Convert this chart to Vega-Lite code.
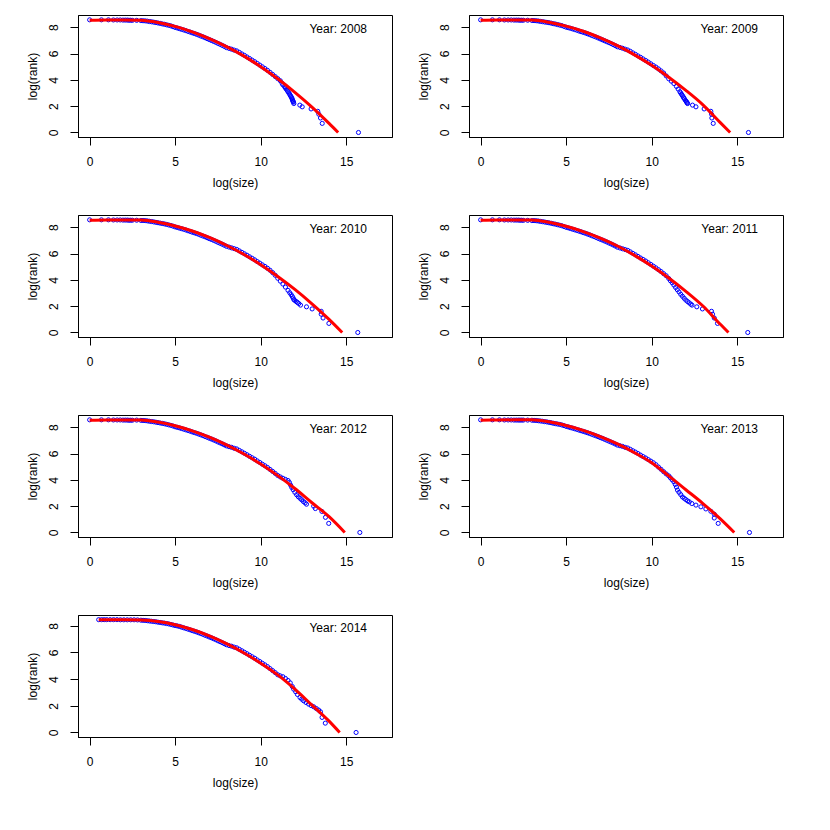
{
"$schema": "https://vega.github.io/schema/vega-lite/v6.json",
"autosize": {"type": "none"},
"padding": {"left": 78, "top": 15, "right": 752, "bottom": 815},
"background": "white",
"datasets": {
"obs2008": [{"lsize":0,"lrank":8.56},{"lsize":0.69,"lrank":8.56},{"lsize":1.1,"lrank":8.56},{"lsize":1.39,"lrank":8.55},{"lsize":1.61,"lrank":8.55},{"lsize":1.79,"lrank":8.55},{"lsize":1.95,"lrank":8.54},{"lsize":2.08,"lrank":8.54},{"lsize":2.2,"lrank":8.54},{"lsize":2.3,"lrank":8.53},{"lsize":2.4,"lrank":8.53},
{"lsize":2.5,"lrank":8.52},{"lsize":2.75,"lrank":8.52},{"lsize":3,"lrank":8.5},{"lsize":3.125,"lrank":8.49},{"lsize":3.25,"lrank":8.48},{"lsize":3.375,"lrank":8.46},{"lsize":3.5,"lrank":8.43},{"lsize":3.625,"lrank":8.41},{"lsize":3.75,"lrank":8.38},{"lsize":3.875,"lrank":8.35},{"lsize":4,"lrank":8.32},{"lsize":4.125,"lrank":8.29},{"lsize":4.25,"lrank":8.25},{"lsize":4.375,"lrank":8.22},{"lsize":4.5,"lrank":8.18},{"lsize":4.625,"lrank":8.14},{"lsize":4.75,"lrank":8.1},{"lsize":4.875,"lrank":8.04},{"lsize":5,"lrank":7.98},{"lsize":5.125,"lrank":7.94},{"lsize":5.25,"lrank":7.89},{"lsize":5.375,"lrank":7.84},{"lsize":5.5,"lrank":7.79},{"lsize":5.625,"lrank":7.74},{"lsize":5.75,"lrank":7.68},{"lsize":5.875,"lrank":7.63},{"lsize":6,"lrank":7.57},{"lsize":6.125,"lrank":7.52},{"lsize":6.25,"lrank":7.46},{"lsize":6.375,"lrank":7.4},{"lsize":6.5,"lrank":7.33},{"lsize":6.625,"lrank":7.27},{"lsize":6.75,"lrank":7.2},{"lsize":6.875,"lrank":7.13},{"lsize":7,"lrank":7.06},{"lsize":7.125,"lrank":6.99},{"lsize":7.25,"lrank":6.92},{"lsize":7.375,"lrank":6.85},{"lsize":7.5,"lrank":6.77},{"lsize":7.625,"lrank":6.7},{"lsize":7.75,"lrank":6.62},{"lsize":7.875,"lrank":6.54},{"lsize":8,"lrank":6.45},{"lsize":8.15,"lrank":6.39},{"lsize":8.3,"lrank":6.33},{"lsize":8.45,"lrank":6.26},{"lsize":8.6,"lrank":6.2},{"lsize":8.75,"lrank":6.09},{"lsize":8.9,"lrank":5.97},{"lsize":9.05,"lrank":5.86},{"lsize":9.2,"lrank":5.74},{"lsize":9.35,"lrank":5.62},{"lsize":9.5,"lrank":5.5},{"lsize":9.65,"lrank":5.38},{"lsize":9.8,"lrank":5.25},{"lsize":9.95,"lrank":5.12},{"lsize":10.1,"lrank":4.99},{"lsize":10.25,"lrank":4.86},{"lsize":10.4,"lrank":4.72},{"lsize":10.55,"lrank":4.57},{"lsize":10.7,"lrank":4.41},{"lsize":10.85,"lrank":4.25},{"lsize":11,"lrank":4.09},
{"lsize":11.15,"lrank":3.93},{"lsize":11.25,"lrank":3.74},{"lsize":11.3,"lrank":3.62},{"lsize":11.4,"lrank":3.47},{"lsize":11.45,"lrank":3.38},{"lsize":11.5,"lrank":3.3},{"lsize":11.55,"lrank":3.2},{"lsize":11.6,"lrank":3.1},{"lsize":11.65,"lrank":3},{"lsize":11.7,"lrank":2.9},{"lsize":11.74,"lrank":2.8},{"lsize":11.78,"lrank":2.72},{"lsize":11.81,"lrank":2.64},{"lsize":11.84,"lrank":2.56},{"lsize":11.86,"lrank":2.48},{"lsize":11.88,"lrank":2.4},{"lsize":11.9,"lrank":2.35},{"lsize":11.92,"lrank":2.3},{"lsize":11.94,"lrank":2.2},
{"lsize":12.29,"lrank":2.08},{"lsize":12.43,"lrank":1.95},{"lsize":12.95,"lrank":1.79},{"lsize":13.34,"lrank":1.61},{"lsize":13.4,"lrank":1.39},{"lsize":13.5,"lrank":1.1},{"lsize":13.6,"lrank":0.69},{"lsize":15.72,"lrank":0}],
"fit2008": [{"lsize":0,"lrank":8.53},{"lsize":1,"lrank":8.55},{"lsize":2,"lrank":8.55},{"lsize":3,"lrank":8.53},{"lsize":4,"lrank":8.36},{"lsize":5,"lrank":8.06},{"lsize":6,"lrank":7.65},{"lsize":7,"lrank":7.14},{"lsize":8,"lrank":6.53},{"lsize":9,"lrank":5.82},{"lsize":10,"lrank":5.0},{"lsize":11,"lrank":4.08},{"lsize":12,"lrank":3.05},{"lsize":13,"lrank":1.93},{"lsize":14,"lrank":0.69},{"lsize":14.53,"lrank":0}],
"obs2009": [{"lsize":0,"lrank":8.56},{"lsize":0.69,"lrank":8.56},{"lsize":1.1,"lrank":8.56},{"lsize":1.39,"lrank":8.55},{"lsize":1.61,"lrank":8.55},{"lsize":1.79,"lrank":8.55},{"lsize":1.95,"lrank":8.54},{"lsize":2.08,"lrank":8.54},{"lsize":2.2,"lrank":8.54},{"lsize":2.3,"lrank":8.53},{"lsize":2.4,"lrank":8.53},
{"lsize":2.5,"lrank":8.53},{"lsize":2.75,"lrank":8.53},{"lsize":3,"lrank":8.51},{"lsize":3.125,"lrank":8.5},{"lsize":3.25,"lrank":8.49},{"lsize":3.375,"lrank":8.47},{"lsize":3.5,"lrank":8.44},{"lsize":3.625,"lrank":8.42},{"lsize":3.75,"lrank":8.39},{"lsize":3.875,"lrank":8.37},{"lsize":4,"lrank":8.34},{"lsize":4.125,"lrank":8.31},{"lsize":4.25,"lrank":8.27},{"lsize":4.375,"lrank":8.24},{"lsize":4.5,"lrank":8.2},{"lsize":4.625,"lrank":8.16},{"lsize":4.75,"lrank":8.12},{"lsize":4.875,"lrank":8.06},{"lsize":5,"lrank":8.0},{"lsize":5.125,"lrank":7.96},{"lsize":5.25,"lrank":7.92},{"lsize":5.375,"lrank":7.87},{"lsize":5.5,"lrank":7.82},{"lsize":5.625,"lrank":7.77},{"lsize":5.75,"lrank":7.71},{"lsize":5.875,"lrank":7.66},{"lsize":6,"lrank":7.61},{"lsize":6.125,"lrank":7.56},{"lsize":6.25,"lrank":7.5},{"lsize":6.375,"lrank":7.44},{"lsize":6.5,"lrank":7.37},{"lsize":6.625,"lrank":7.31},{"lsize":6.75,"lrank":7.25},{"lsize":6.875,"lrank":7.18},{"lsize":7,"lrank":7.11},{"lsize":7.125,"lrank":7.04},{"lsize":7.25,"lrank":6.97},{"lsize":7.375,"lrank":6.9},{"lsize":7.5,"lrank":6.83},{"lsize":7.625,"lrank":6.76},{"lsize":7.75,"lrank":6.68},{"lsize":7.875,"lrank":6.6},{"lsize":8,"lrank":6.51},{"lsize":8.15,"lrank":6.46},{"lsize":8.3,"lrank":6.4},{"lsize":8.45,"lrank":6.33},{"lsize":8.6,"lrank":6.27},{"lsize":8.75,"lrank":6.17},{"lsize":8.9,"lrank":6.05},{"lsize":9.05,"lrank":5.94},{"lsize":9.2,"lrank":5.82},{"lsize":9.35,"lrank":5.71},{"lsize":9.5,"lrank":5.59},{"lsize":9.65,"lrank":5.47},{"lsize":9.8,"lrank":5.35},{"lsize":9.95,"lrank":5.22},{"lsize":10.1,"lrank":5.09},{"lsize":10.25,"lrank":4.97},{"lsize":10.4,"lrank":4.83},{"lsize":10.55,"lrank":4.68},{"lsize":10.7,"lrank":4.52},
{"lsize":10.85,"lrank":4.3},{"lsize":11,"lrank":4.08},{"lsize":11.15,"lrank":3.9},{"lsize":11.3,"lrank":3.72},{"lsize":11.45,"lrank":3.5},{"lsize":11.55,"lrank":3.3},{"lsize":11.65,"lrank":3.1},{"lsize":11.7,"lrank":3.0},{"lsize":11.75,"lrank":2.9},{"lsize":11.8,"lrank":2.8},{"lsize":11.85,"lrank":2.7},{"lsize":11.88,"lrank":2.62},{"lsize":11.92,"lrank":2.55},{"lsize":11.98,"lrank":2.43},{"lsize":12.02,"lrank":2.36},{"lsize":12.05,"lrank":2.3},{"lsize":12.08,"lrank":2.25},{"lsize":12.1,"lrank":2.2},
{"lsize":12.39,"lrank":2.08},{"lsize":12.59,"lrank":1.95},{"lsize":13.07,"lrank":1.79},{"lsize":13.46,"lrank":1.61},{"lsize":13.5,"lrank":1.39},{"lsize":13.52,"lrank":1.1},{"lsize":13.6,"lrank":0.69},{"lsize":15.66,"lrank":0}],
"fit2009": [{"lsize":0,"lrank":8.53},{"lsize":1,"lrank":8.55},{"lsize":2,"lrank":8.55},{"lsize":3,"lrank":8.54},{"lsize":4,"lrank":8.37},{"lsize":5,"lrank":8.08},{"lsize":6,"lrank":7.69},{"lsize":7,"lrank":7.19},{"lsize":8,"lrank":6.6},{"lsize":9,"lrank":5.9},{"lsize":10,"lrank":5.1},{"lsize":11,"lrank":4.2},{"lsize":12,"lrank":3.2},{"lsize":13,"lrank":2.1},{"lsize":14,"lrank":0.77},{"lsize":14.59,"lrank":0}],
"obs2010": [{"lsize":0,"lrank":8.56},{"lsize":0.69,"lrank":8.56},{"lsize":1.1,"lrank":8.56},{"lsize":1.39,"lrank":8.55},{"lsize":1.61,"lrank":8.55},{"lsize":1.79,"lrank":8.55},{"lsize":1.95,"lrank":8.54},{"lsize":2.08,"lrank":8.54},{"lsize":2.2,"lrank":8.54},{"lsize":2.3,"lrank":8.53},{"lsize":2.4,"lrank":8.53},
{"lsize":2.5,"lrank":8.53},{"lsize":2.75,"lrank":8.53},{"lsize":3,"lrank":8.51},{"lsize":3.125,"lrank":8.51},{"lsize":3.25,"lrank":8.5},{"lsize":3.375,"lrank":8.48},{"lsize":3.5,"lrank":8.45},{"lsize":3.625,"lrank":8.43},{"lsize":3.75,"lrank":8.4},{"lsize":3.875,"lrank":8.37},{"lsize":4,"lrank":8.34},{"lsize":4.125,"lrank":8.31},{"lsize":4.25,"lrank":8.28},{"lsize":4.375,"lrank":8.25},{"lsize":4.5,"lrank":8.21},{"lsize":4.625,"lrank":8.17},{"lsize":4.75,"lrank":8.13},{"lsize":4.875,"lrank":8.08},{"lsize":5,"lrank":8.02},{"lsize":5.125,"lrank":7.98},{"lsize":5.25,"lrank":7.93},{"lsize":5.375,"lrank":7.89},{"lsize":5.5,"lrank":7.84},{"lsize":5.625,"lrank":7.79},{"lsize":5.75,"lrank":7.73},{"lsize":5.875,"lrank":7.68},{"lsize":6,"lrank":7.62},{"lsize":6.125,"lrank":7.57},{"lsize":6.25,"lrank":7.52},{"lsize":6.375,"lrank":7.46},{"lsize":6.5,"lrank":7.39},{"lsize":6.625,"lrank":7.33},{"lsize":6.75,"lrank":7.27},{"lsize":6.875,"lrank":7.2},{"lsize":7,"lrank":7.13},{"lsize":7.125,"lrank":7.07},{"lsize":7.25,"lrank":7.0},{"lsize":7.375,"lrank":6.93},{"lsize":7.5,"lrank":6.85},{"lsize":7.625,"lrank":6.78},{"lsize":7.75,"lrank":6.71},{"lsize":7.875,"lrank":6.63},{"lsize":8,"lrank":6.55},{"lsize":8.15,"lrank":6.49},{"lsize":8.3,"lrank":6.43},{"lsize":8.45,"lrank":6.37},{"lsize":8.6,"lrank":6.31},{"lsize":8.75,"lrank":6.2},{"lsize":8.9,"lrank":6.09},{"lsize":9.05,"lrank":5.98},{"lsize":9.2,"lrank":5.87},{"lsize":9.35,"lrank":5.75},{"lsize":9.5,"lrank":5.64},{"lsize":9.65,"lrank":5.52},{"lsize":9.8,"lrank":5.39},{"lsize":9.95,"lrank":5.27},{"lsize":10.1,"lrank":5.14},{"lsize":10.25,"lrank":5.02},{"lsize":10.4,"lrank":4.88},{"lsize":10.55,"lrank":4.73},{"lsize":10.7,"lrank":4.55},
{"lsize":10.85,"lrank":4.35},{"lsize":11,"lrank":4.12},{"lsize":11.15,"lrank":3.9},{"lsize":11.3,"lrank":3.68},{"lsize":11.45,"lrank":3.45},{"lsize":11.6,"lrank":3.2},{"lsize":11.7,"lrank":3.02},{"lsize":11.78,"lrank":2.88},{"lsize":11.85,"lrank":2.74},{"lsize":11.9,"lrank":2.62},{"lsize":11.94,"lrank":2.5},{"lsize":12,"lrank":2.43},{"lsize":12.08,"lrank":2.35},{"lsize":12.15,"lrank":2.28},{"lsize":12.23,"lrank":2.2},
{"lsize":12.33,"lrank":2.08},{"lsize":12.68,"lrank":1.95},{"lsize":13.01,"lrank":1.79},{"lsize":13.54,"lrank":1.61},{"lsize":13.54,"lrank":1.39},{"lsize":13.65,"lrank":1.1},{"lsize":13.99,"lrank":0.69},{"lsize":15.68,"lrank":0}],
"fit2010": [{"lsize":0,"lrank":8.53},{"lsize":1,"lrank":8.55},{"lsize":2,"lrank":8.55},{"lsize":3,"lrank":8.54},{"lsize":4,"lrank":8.38},{"lsize":5,"lrank":8.09},{"lsize":6,"lrank":7.71},{"lsize":7,"lrank":7.22},{"lsize":8,"lrank":6.63},{"lsize":9,"lrank":5.94},{"lsize":10,"lrank":5.15},{"lsize":11,"lrank":4.26},{"lsize":12,"lrank":3.27},{"lsize":13,"lrank":2.18},{"lsize":14,"lrank":1.0},{"lsize":14.77,"lrank":0}],
"obs2011": [{"lsize":0,"lrank":8.56},{"lsize":0.69,"lrank":8.56},{"lsize":1.1,"lrank":8.56},{"lsize":1.39,"lrank":8.55},{"lsize":1.61,"lrank":8.55},{"lsize":1.79,"lrank":8.55},{"lsize":1.95,"lrank":8.54},{"lsize":2.08,"lrank":8.54},{"lsize":2.2,"lrank":8.54},{"lsize":2.3,"lrank":8.53},{"lsize":2.4,"lrank":8.53},
{"lsize":2.5,"lrank":8.52},{"lsize":2.75,"lrank":8.52},{"lsize":3,"lrank":8.5},{"lsize":3.125,"lrank":8.5},{"lsize":3.25,"lrank":8.49},{"lsize":3.375,"lrank":8.47},{"lsize":3.5,"lrank":8.44},{"lsize":3.625,"lrank":8.42},{"lsize":3.75,"lrank":8.39},{"lsize":3.875,"lrank":8.36},{"lsize":4,"lrank":8.33},{"lsize":4.125,"lrank":8.3},{"lsize":4.25,"lrank":8.26},{"lsize":4.375,"lrank":8.23},{"lsize":4.5,"lrank":8.19},{"lsize":4.625,"lrank":8.15},{"lsize":4.75,"lrank":8.11},{"lsize":4.875,"lrank":8.05},{"lsize":5,"lrank":7.99},{"lsize":5.125,"lrank":7.95},{"lsize":5.25,"lrank":7.9},{"lsize":5.375,"lrank":7.85},{"lsize":5.5,"lrank":7.8},{"lsize":5.625,"lrank":7.75},{"lsize":5.75,"lrank":7.7},{"lsize":5.875,"lrank":7.65},{"lsize":6,"lrank":7.59},{"lsize":6.125,"lrank":7.54},{"lsize":6.25,"lrank":7.48},{"lsize":6.375,"lrank":7.42},{"lsize":6.5,"lrank":7.35},{"lsize":6.625,"lrank":7.29},{"lsize":6.75,"lrank":7.22},{"lsize":6.875,"lrank":7.15},{"lsize":7,"lrank":7.08},{"lsize":7.125,"lrank":7.02},{"lsize":7.25,"lrank":6.95},{"lsize":7.375,"lrank":6.88},{"lsize":7.5,"lrank":6.8},{"lsize":7.625,"lrank":6.73},{"lsize":7.75,"lrank":6.65},{"lsize":7.875,"lrank":6.57},{"lsize":8,"lrank":6.48},{"lsize":8.15,"lrank":6.42},{"lsize":8.3,"lrank":6.36},{"lsize":8.45,"lrank":6.3},{"lsize":8.6,"lrank":6.24},{"lsize":8.75,"lrank":6.13},{"lsize":8.9,"lrank":6.01},{"lsize":9.05,"lrank":5.9},{"lsize":9.2,"lrank":5.78},{"lsize":9.35,"lrank":5.66},{"lsize":9.5,"lrank":5.55},{"lsize":9.65,"lrank":5.43},{"lsize":9.8,"lrank":5.3},{"lsize":9.95,"lrank":5.17},{"lsize":10.1,"lrank":5.04},{"lsize":10.25,"lrank":4.91},{"lsize":10.4,"lrank":4.77},{"lsize":10.55,"lrank":4.63},{"lsize":10.7,"lrank":4.47},{"lsize":10.85,"lrank":4.31},
{"lsize":11,"lrank":4.1},{"lsize":11.1,"lrank":3.93},{"lsize":11.2,"lrank":3.78},{"lsize":11.3,"lrank":3.6},{"lsize":11.4,"lrank":3.42},{"lsize":11.5,"lrank":3.25},{"lsize":11.6,"lrank":3.08},{"lsize":11.7,"lrank":2.9},{"lsize":11.8,"lrank":2.75},{"lsize":11.9,"lrank":2.6},{"lsize":12,"lrank":2.46},{"lsize":12.1,"lrank":2.35},{"lsize":12.2,"lrank":2.25},{"lsize":12.29,"lrank":2.15},
{"lsize":12.36,"lrank":2.08},{"lsize":12.64,"lrank":1.95},{"lsize":12.97,"lrank":1.79},{"lsize":13.5,"lrank":1.61},{"lsize":13.56,"lrank":1.39},{"lsize":13.66,"lrank":1.1},{"lsize":13.85,"lrank":0.69},{"lsize":15.62,"lrank":0}],
"fit2011": [{"lsize":0,"lrank":8.53},{"lsize":1,"lrank":8.55},{"lsize":2,"lrank":8.55},{"lsize":3,"lrank":8.54},{"lsize":4,"lrank":8.37},{"lsize":5,"lrank":8.07},{"lsize":6,"lrank":7.67},{"lsize":7,"lrank":7.17},{"lsize":8,"lrank":6.57},{"lsize":9,"lrank":5.86},{"lsize":10,"lrank":5.05},{"lsize":11,"lrank":4.14},{"lsize":12,"lrank":3.13},{"lsize":13,"lrank":2.01},{"lsize":14,"lrank":0.64},{"lsize":14.49,"lrank":0}],
"obs2012": [{"lsize":0,"lrank":8.56},{"lsize":0.69,"lrank":8.56},{"lsize":1.1,"lrank":8.56},{"lsize":1.39,"lrank":8.55},{"lsize":1.61,"lrank":8.55},{"lsize":1.79,"lrank":8.55},{"lsize":1.95,"lrank":8.54},{"lsize":2.08,"lrank":8.54},{"lsize":2.2,"lrank":8.54},{"lsize":2.3,"lrank":8.53},{"lsize":2.4,"lrank":8.53},
{"lsize":2.5,"lrank":8.53},{"lsize":2.75,"lrank":8.54},{"lsize":3,"lrank":8.52},{"lsize":3.125,"lrank":8.51},{"lsize":3.25,"lrank":8.5},{"lsize":3.375,"lrank":8.48},{"lsize":3.5,"lrank":8.45},{"lsize":3.625,"lrank":8.43},{"lsize":3.75,"lrank":8.41},{"lsize":3.875,"lrank":8.38},{"lsize":4,"lrank":8.35},{"lsize":4.125,"lrank":8.32},{"lsize":4.25,"lrank":8.29},{"lsize":4.375,"lrank":8.26},{"lsize":4.5,"lrank":8.22},{"lsize":4.625,"lrank":8.18},{"lsize":4.75,"lrank":8.14},{"lsize":4.875,"lrank":8.09},{"lsize":5,"lrank":8.03},{"lsize":5.125,"lrank":7.99},{"lsize":5.25,"lrank":7.95},{"lsize":5.375,"lrank":7.9},{"lsize":5.5,"lrank":7.85},{"lsize":5.625,"lrank":7.8},{"lsize":5.75,"lrank":7.75},{"lsize":5.875,"lrank":7.7},{"lsize":6,"lrank":7.64},{"lsize":6.125,"lrank":7.59},{"lsize":6.25,"lrank":7.54},{"lsize":6.375,"lrank":7.48},{"lsize":6.5,"lrank":7.42},{"lsize":6.625,"lrank":7.36},{"lsize":6.75,"lrank":7.29},{"lsize":6.875,"lrank":7.23},{"lsize":7,"lrank":7.16},{"lsize":7.125,"lrank":7.1},{"lsize":7.25,"lrank":7.03},{"lsize":7.375,"lrank":6.96},{"lsize":7.5,"lrank":6.88},{"lsize":7.625,"lrank":6.81},{"lsize":7.75,"lrank":6.74},{"lsize":7.875,"lrank":6.66},{"lsize":8,"lrank":6.58},{"lsize":8.15,"lrank":6.52},{"lsize":8.3,"lrank":6.47},{"lsize":8.45,"lrank":6.4},{"lsize":8.6,"lrank":6.35},{"lsize":8.75,"lrank":6.24},{"lsize":8.9,"lrank":6.13},{"lsize":9.05,"lrank":6.02},{"lsize":9.2,"lrank":5.91},{"lsize":9.35,"lrank":5.79},{"lsize":9.5,"lrank":5.68},{"lsize":9.65,"lrank":5.57},{"lsize":9.8,"lrank":5.44},{"lsize":9.95,"lrank":5.32},{"lsize":10.1,"lrank":5.19},{"lsize":10.25,"lrank":5.07},{"lsize":10.4,"lrank":4.94},{"lsize":10.55,"lrank":4.79},{"lsize":10.7,"lrank":4.64},{"lsize":10.85,"lrank":4.49},{"lsize":11,"lrank":4.33},
{"lsize":11.15,"lrank":4.22},{"lsize":11.3,"lrank":4.12},{"lsize":11.45,"lrank":4.03},{"lsize":11.6,"lrank":3.95},{"lsize":11.68,"lrank":3.8},{"lsize":11.75,"lrank":3.6},{"lsize":11.82,"lrank":3.42},{"lsize":11.9,"lrank":3.25},{"lsize":12,"lrank":3.05},{"lsize":12.1,"lrank":2.87},{"lsize":12.2,"lrank":2.72},{"lsize":12.3,"lrank":2.6},{"lsize":12.4,"lrank":2.48},{"lsize":12.5,"lrank":2.35},{"lsize":12.6,"lrank":2.25},{"lsize":12.68,"lrank":2.15},
{"lsize":13.1,"lrank":2.0},{"lsize":13.2,"lrank":1.82},{"lsize":13.58,"lrank":1.6},{"lsize":13.79,"lrank":1.15},{"lsize":13.98,"lrank":0.69},{"lsize":15.8,"lrank":0}],
"fit2012": [{"lsize":0,"lrank":8.53},{"lsize":1,"lrank":8.55},{"lsize":2,"lrank":8.55},{"lsize":3,"lrank":8.55},{"lsize":4,"lrank":8.39},{"lsize":5,"lrank":8.11},{"lsize":6,"lrank":7.72},{"lsize":7,"lrank":7.24},{"lsize":8,"lrank":6.66},{"lsize":9,"lrank":5.98},{"lsize":10,"lrank":5.2},{"lsize":11,"lrank":4.32},{"lsize":12,"lrank":3.34},{"lsize":13,"lrank":2.26},{"lsize":14,"lrank":1.2},{"lsize":14.92,"lrank":0}],
"obs2013": [{"lsize":0,"lrank":8.56},{"lsize":0.69,"lrank":8.56},{"lsize":1.1,"lrank":8.56},{"lsize":1.39,"lrank":8.55},{"lsize":1.61,"lrank":8.55},{"lsize":1.79,"lrank":8.55},{"lsize":1.95,"lrank":8.54},{"lsize":2.08,"lrank":8.54},{"lsize":2.2,"lrank":8.54},{"lsize":2.3,"lrank":8.54},{"lsize":2.4,"lrank":8.54},
{"lsize":2.5,"lrank":8.54},{"lsize":2.75,"lrank":8.54},{"lsize":3,"lrank":8.53},{"lsize":3.125,"lrank":8.52},{"lsize":3.25,"lrank":8.51},{"lsize":3.375,"lrank":8.49},{"lsize":3.5,"lrank":8.47},{"lsize":3.625,"lrank":8.45},{"lsize":3.75,"lrank":8.42},{"lsize":3.875,"lrank":8.4},{"lsize":4,"lrank":8.37},{"lsize":4.125,"lrank":8.34},{"lsize":4.25,"lrank":8.3},{"lsize":4.375,"lrank":8.27},{"lsize":4.5,"lrank":8.24},{"lsize":4.625,"lrank":8.21},{"lsize":4.75,"lrank":8.17},{"lsize":4.875,"lrank":8.12},{"lsize":5,"lrank":8.06},{"lsize":5.125,"lrank":8.02},{"lsize":5.25,"lrank":7.97},{"lsize":5.375,"lrank":7.93},{"lsize":5.5,"lrank":7.88},{"lsize":5.625,"lrank":7.83},{"lsize":5.75,"lrank":7.78},{"lsize":5.875,"lrank":7.73},{"lsize":6,"lrank":7.68},{"lsize":6.125,"lrank":7.63},{"lsize":6.25,"lrank":7.58},{"lsize":6.375,"lrank":7.52},{"lsize":6.5,"lrank":7.46},{"lsize":6.625,"lrank":7.4},{"lsize":6.75,"lrank":7.34},{"lsize":6.875,"lrank":7.28},{"lsize":7,"lrank":7.21},{"lsize":7.125,"lrank":7.15},{"lsize":7.25,"lrank":7.08},{"lsize":7.375,"lrank":7.01},{"lsize":7.5,"lrank":6.94},{"lsize":7.625,"lrank":6.87},{"lsize":7.75,"lrank":6.8},{"lsize":7.875,"lrank":6.72},{"lsize":8,"lrank":6.64},{"lsize":8.15,"lrank":6.59},{"lsize":8.3,"lrank":6.54},{"lsize":8.45,"lrank":6.47},{"lsize":8.6,"lrank":6.42},{"lsize":8.75,"lrank":6.32},{"lsize":8.9,"lrank":6.21},{"lsize":9.05,"lrank":6.11},{"lsize":9.2,"lrank":6.0},{"lsize":9.35,"lrank":5.88},{"lsize":9.5,"lrank":5.77},{"lsize":9.65,"lrank":5.66},{"lsize":9.8,"lrank":5.54},{"lsize":9.95,"lrank":5.42},{"lsize":10.1,"lrank":5.3},{"lsize":10.25,"lrank":5.15},{"lsize":10.4,"lrank":4.97},{"lsize":10.55,"lrank":4.8},{"lsize":10.7,"lrank":4.62},{"lsize":10.85,"lrank":4.45},{"lsize":11,"lrank":4.3},
{"lsize":11.1,"lrank":4.15},{"lsize":11.2,"lrank":4.0},{"lsize":11.3,"lrank":3.85},{"lsize":11.38,"lrank":3.65},{"lsize":11.45,"lrank":3.45},{"lsize":11.51,"lrank":3.22},{"lsize":11.6,"lrank":3.05},{"lsize":11.7,"lrank":2.88},{"lsize":11.8,"lrank":2.7},{"lsize":11.9,"lrank":2.6},{"lsize":12,"lrank":2.5},{"lsize":12.1,"lrank":2.4},{"lsize":12.2,"lrank":2.33},{"lsize":12.35,"lrank":2.2},
{"lsize":12.59,"lrank":2.08},{"lsize":12.88,"lrank":1.95},{"lsize":13.17,"lrank":1.79},{"lsize":13.46,"lrank":1.61},{"lsize":13.66,"lrank":1.39},{"lsize":13.66,"lrank":1.1},{"lsize":13.89,"lrank":0.69},{"lsize":15.72,"lrank":0}],
"fit2013": [{"lsize":0,"lrank":8.53},{"lsize":1,"lrank":8.55},{"lsize":2,"lrank":8.56},{"lsize":3,"lrank":8.56},{"lsize":4,"lrank":8.41},{"lsize":5,"lrank":8.13},{"lsize":6,"lrank":7.76},{"lsize":7,"lrank":7.29},{"lsize":8,"lrank":6.73},{"lsize":9,"lrank":6.06},{"lsize":10,"lrank":5.3},{"lsize":11,"lrank":4.3},{"lsize":12,"lrank":3.25},{"lsize":13,"lrank":2.2},{"lsize":14,"lrank":1.05},{"lsize":14.83,"lrank":0}],
"obs2014": [{"lsize":0.53,"lrank":8.46},{"lsize":0.7,"lrank":8.46},{"lsize":0.85,"lrank":8.46},{"lsize":1.0,"lrank":8.46},{"lsize":1.2,"lrank":8.46},{"lsize":1.4,"lrank":8.46},{"lsize":1.6,"lrank":8.46},{"lsize":1.8,"lrank":8.45},{"lsize":2.0,"lrank":8.45},{"lsize":2.2,"lrank":8.45},{"lsize":2.4,"lrank":8.45},{"lsize":2.6,"lrank":8.45},{"lsize":2.8,"lrank":8.44},{"lsize":3,"lrank":8.42},{"lsize":3.125,"lrank":8.41},{"lsize":3.25,"lrank":8.4},{"lsize":3.375,"lrank":8.38},{"lsize":3.5,"lrank":8.36},{"lsize":3.625,"lrank":8.34},{"lsize":3.75,"lrank":8.32},{"lsize":3.875,"lrank":8.3},{"lsize":4,"lrank":8.27},{"lsize":4.125,"lrank":8.25},{"lsize":4.25,"lrank":8.22},{"lsize":4.375,"lrank":8.2},{"lsize":4.5,"lrank":8.17},{"lsize":4.625,"lrank":8.14},{"lsize":4.75,"lrank":8.1},{"lsize":4.875,"lrank":8.06},{"lsize":5,"lrank":8.02},{"lsize":5.125,"lrank":7.99},
{"lsize":5.25,"lrank":7.95},{"lsize":5.375,"lrank":7.9},{"lsize":5.5,"lrank":7.85},{"lsize":5.625,"lrank":7.8},{"lsize":5.75,"lrank":7.75},{"lsize":5.875,"lrank":7.7},{"lsize":6,"lrank":7.64},{"lsize":6.125,"lrank":7.59},{"lsize":6.25,"lrank":7.54},{"lsize":6.375,"lrank":7.48},{"lsize":6.5,"lrank":7.42},{"lsize":6.625,"lrank":7.36},{"lsize":6.75,"lrank":7.29},{"lsize":6.875,"lrank":7.23},{"lsize":7,"lrank":7.16},{"lsize":7.125,"lrank":7.1},{"lsize":7.25,"lrank":7.03},{"lsize":7.375,"lrank":6.96},{"lsize":7.5,"lrank":6.88},{"lsize":7.625,"lrank":6.81},{"lsize":7.75,"lrank":6.74},{"lsize":7.875,"lrank":6.66},{"lsize":8,"lrank":6.58},{"lsize":8.15,"lrank":6.52},{"lsize":8.3,"lrank":6.47},{"lsize":8.45,"lrank":6.4},{"lsize":8.6,"lrank":6.35},{"lsize":8.75,"lrank":6.24},{"lsize":8.9,"lrank":6.13},{"lsize":9.05,"lrank":6.02},{"lsize":9.2,"lrank":5.91},{"lsize":9.35,"lrank":5.79},{"lsize":9.5,"lrank":5.68},{"lsize":9.65,"lrank":5.57},{"lsize":9.8,"lrank":5.44},{"lsize":9.95,"lrank":5.32},{"lsize":10.1,"lrank":5.19},{"lsize":10.25,"lrank":5.07},{"lsize":10.4,"lrank":4.94},{"lsize":10.55,"lrank":4.79},{"lsize":10.7,"lrank":4.64},{"lsize":10.85,"lrank":4.49},{"lsize":11,"lrank":4.33},
{"lsize":11.14,"lrank":4.25},{"lsize":11.3,"lrank":4.18},{"lsize":11.45,"lrank":4.05},{"lsize":11.6,"lrank":3.9},{"lsize":11.73,"lrank":3.72},{"lsize":11.85,"lrank":3.45},{"lsize":11.93,"lrank":3.25},{"lsize":12.05,"lrank":3.05},{"lsize":12.15,"lrank":2.85},{"lsize":12.3,"lrank":2.62},{"lsize":12.4,"lrank":2.5},{"lsize":12.51,"lrank":2.38},{"lsize":12.65,"lrank":2.25},{"lsize":12.8,"lrank":2.13},{"lsize":12.95,"lrank":2.02},{"lsize":13.1,"lrank":1.93},{"lsize":13.25,"lrank":1.8},{"lsize":13.39,"lrank":1.68},{"lsize":13.5,"lrank":1.55},{"lsize":13.59,"lrank":1.13},{"lsize":13.78,"lrank":0.7},{"lsize":15.58,"lrank":0}],
"fit2014": [{"lsize":0.53,"lrank":8.46},{"lsize":1,"lrank":8.46},{"lsize":2,"lrank":8.46},{"lsize":3,"lrank":8.43},{"lsize":4,"lrank":8.32},{"lsize":5,"lrank":8.08},{"lsize":6,"lrank":7.72},{"lsize":7,"lrank":7.24},{"lsize":8,"lrank":6.66},{"lsize":9,"lrank":5.98},{"lsize":10,"lrank":5.2},{"lsize":11,"lrank":4.32},{"lsize":12,"lrank":3.25},{"lsize":13,"lrank":2.05},{"lsize":14,"lrank":0.85},{"lsize":14.62,"lrank":0}]
},
"columns": 2,
"spacing": {"row": 78, "column": 77},
"bounds": "flush",
"concat": [
{"width":314,"height":122,"layer":[
 {"data":{"name":"obs2008"},"mark":"point","encoding":{"x":{"field":"lsize","type":"quantitative","title":"log(size)","scale":{"domain":[-0.68,17.68],"nice":false,"zero":false},"axis":{"title":"log(size)","values":[0,5,10,15]}},"y":{"field":"lrank","type":"quantitative","title":"log(rank)","scale":{"domain":[-0.343,8.927],"nice":false,"zero":false},"axis":{"title":"log(rank)","values":[0,2,4,6,8]}}}},
 {"data":{"name":"fit2008"},"mark":"line","encoding":{"x":{"field":"lsize","type":"quantitative","title":"log(size)","scale":{"domain":[-0.68,17.68],"nice":false,"zero":false},"axis":{"title":"log(size)","values":[0,5,10,15]}},"y":{"field":"lrank","type":"quantitative","title":"log(rank)","scale":{"domain":[-0.343,8.927],"nice":false,"zero":false},"axis":{"title":"log(rank)","values":[0,2,4,6,8]}}}},
 {"data":{"values":[{"label":"Year: 2008"}]},"mark":"text","encoding":{"x":{"datum":16.22,"type":"quantitative","title":"log(size)","scale":{"domain":[-0.68,17.68],"nice":false,"zero":false},"axis":{"title":"log(size)","values":[0,5,10,15]}},"y":{"datum":7.9,"type":"quantitative","title":"log(rank)","scale":{"domain":[-0.343,8.927],"nice":false,"zero":false},"axis":{"title":"log(rank)","values":[0,2,4,6,8]}},"text":{"field":"label"}}}]},
{"width":314,"height":122,"layer":[
 {"data":{"name":"obs2009"},"mark":"point","encoding":{"x":{"field":"lsize","type":"quantitative","title":"log(size)","scale":{"domain":[-0.68,17.68],"nice":false,"zero":false},"axis":{"title":"log(size)","values":[0,5,10,15]}},"y":{"field":"lrank","type":"quantitative","title":"log(rank)","scale":{"domain":[-0.343,8.927],"nice":false,"zero":false},"axis":{"title":"log(rank)","values":[0,2,4,6,8]}}}},
 {"data":{"name":"fit2009"},"mark":"line","encoding":{"x":{"field":"lsize","type":"quantitative","title":"log(size)","scale":{"domain":[-0.68,17.68],"nice":false,"zero":false},"axis":{"title":"log(size)","values":[0,5,10,15]}},"y":{"field":"lrank","type":"quantitative","title":"log(rank)","scale":{"domain":[-0.343,8.927],"nice":false,"zero":false},"axis":{"title":"log(rank)","values":[0,2,4,6,8]}}}},
 {"data":{"values":[{"label":"Year: 2009"}]},"mark":"text","encoding":{"x":{"datum":16.22,"type":"quantitative","title":"log(size)","scale":{"domain":[-0.68,17.68],"nice":false,"zero":false},"axis":{"title":"log(size)","values":[0,5,10,15]}},"y":{"datum":7.9,"type":"quantitative","title":"log(rank)","scale":{"domain":[-0.343,8.927],"nice":false,"zero":false},"axis":{"title":"log(rank)","values":[0,2,4,6,8]}},"text":{"field":"label"}}}]},
{"width":314,"height":122,"layer":[
 {"data":{"name":"obs2010"},"mark":"point","encoding":{"x":{"field":"lsize","type":"quantitative","title":"log(size)","scale":{"domain":[-0.68,17.68],"nice":false,"zero":false},"axis":{"title":"log(size)","values":[0,5,10,15]}},"y":{"field":"lrank","type":"quantitative","title":"log(rank)","scale":{"domain":[-0.343,8.927],"nice":false,"zero":false},"axis":{"title":"log(rank)","values":[0,2,4,6,8]}}}},
 {"data":{"name":"fit2010"},"mark":"line","encoding":{"x":{"field":"lsize","type":"quantitative","title":"log(size)","scale":{"domain":[-0.68,17.68],"nice":false,"zero":false},"axis":{"title":"log(size)","values":[0,5,10,15]}},"y":{"field":"lrank","type":"quantitative","title":"log(rank)","scale":{"domain":[-0.343,8.927],"nice":false,"zero":false},"axis":{"title":"log(rank)","values":[0,2,4,6,8]}}}},
 {"data":{"values":[{"label":"Year: 2010"}]},"mark":"text","encoding":{"x":{"datum":16.22,"type":"quantitative","title":"log(size)","scale":{"domain":[-0.68,17.68],"nice":false,"zero":false},"axis":{"title":"log(size)","values":[0,5,10,15]}},"y":{"datum":7.9,"type":"quantitative","title":"log(rank)","scale":{"domain":[-0.343,8.927],"nice":false,"zero":false},"axis":{"title":"log(rank)","values":[0,2,4,6,8]}},"text":{"field":"label"}}}]},
{"width":314,"height":122,"layer":[
 {"data":{"name":"obs2011"},"mark":"point","encoding":{"x":{"field":"lsize","type":"quantitative","title":"log(size)","scale":{"domain":[-0.68,17.68],"nice":false,"zero":false},"axis":{"title":"log(size)","values":[0,5,10,15]}},"y":{"field":"lrank","type":"quantitative","title":"log(rank)","scale":{"domain":[-0.343,8.927],"nice":false,"zero":false},"axis":{"title":"log(rank)","values":[0,2,4,6,8]}}}},
 {"data":{"name":"fit2011"},"mark":"line","encoding":{"x":{"field":"lsize","type":"quantitative","title":"log(size)","scale":{"domain":[-0.68,17.68],"nice":false,"zero":false},"axis":{"title":"log(size)","values":[0,5,10,15]}},"y":{"field":"lrank","type":"quantitative","title":"log(rank)","scale":{"domain":[-0.343,8.927],"nice":false,"zero":false},"axis":{"title":"log(rank)","values":[0,2,4,6,8]}}}},
 {"data":{"values":[{"label":"Year: 2011"}]},"mark":"text","encoding":{"x":{"datum":16.22,"type":"quantitative","title":"log(size)","scale":{"domain":[-0.68,17.68],"nice":false,"zero":false},"axis":{"title":"log(size)","values":[0,5,10,15]}},"y":{"datum":7.9,"type":"quantitative","title":"log(rank)","scale":{"domain":[-0.343,8.927],"nice":false,"zero":false},"axis":{"title":"log(rank)","values":[0,2,4,6,8]}},"text":{"field":"label"}}}]},
{"width":314,"height":122,"layer":[
 {"data":{"name":"obs2012"},"mark":"point","encoding":{"x":{"field":"lsize","type":"quantitative","title":"log(size)","scale":{"domain":[-0.68,17.68],"nice":false,"zero":false},"axis":{"title":"log(size)","values":[0,5,10,15]}},"y":{"field":"lrank","type":"quantitative","title":"log(rank)","scale":{"domain":[-0.343,8.927],"nice":false,"zero":false},"axis":{"title":"log(rank)","values":[0,2,4,6,8]}}}},
 {"data":{"name":"fit2012"},"mark":"line","encoding":{"x":{"field":"lsize","type":"quantitative","title":"log(size)","scale":{"domain":[-0.68,17.68],"nice":false,"zero":false},"axis":{"title":"log(size)","values":[0,5,10,15]}},"y":{"field":"lrank","type":"quantitative","title":"log(rank)","scale":{"domain":[-0.343,8.927],"nice":false,"zero":false},"axis":{"title":"log(rank)","values":[0,2,4,6,8]}}}},
 {"data":{"values":[{"label":"Year: 2012"}]},"mark":"text","encoding":{"x":{"datum":16.22,"type":"quantitative","title":"log(size)","scale":{"domain":[-0.68,17.68],"nice":false,"zero":false},"axis":{"title":"log(size)","values":[0,5,10,15]}},"y":{"datum":7.9,"type":"quantitative","title":"log(rank)","scale":{"domain":[-0.343,8.927],"nice":false,"zero":false},"axis":{"title":"log(rank)","values":[0,2,4,6,8]}},"text":{"field":"label"}}}]},
{"width":314,"height":122,"layer":[
 {"data":{"name":"obs2013"},"mark":"point","encoding":{"x":{"field":"lsize","type":"quantitative","title":"log(size)","scale":{"domain":[-0.68,17.68],"nice":false,"zero":false},"axis":{"title":"log(size)","values":[0,5,10,15]}},"y":{"field":"lrank","type":"quantitative","title":"log(rank)","scale":{"domain":[-0.343,8.927],"nice":false,"zero":false},"axis":{"title":"log(rank)","values":[0,2,4,6,8]}}}},
 {"data":{"name":"fit2013"},"mark":"line","encoding":{"x":{"field":"lsize","type":"quantitative","title":"log(size)","scale":{"domain":[-0.68,17.68],"nice":false,"zero":false},"axis":{"title":"log(size)","values":[0,5,10,15]}},"y":{"field":"lrank","type":"quantitative","title":"log(rank)","scale":{"domain":[-0.343,8.927],"nice":false,"zero":false},"axis":{"title":"log(rank)","values":[0,2,4,6,8]}}}},
 {"data":{"values":[{"label":"Year: 2013"}]},"mark":"text","encoding":{"x":{"datum":16.22,"type":"quantitative","title":"log(size)","scale":{"domain":[-0.68,17.68],"nice":false,"zero":false},"axis":{"title":"log(size)","values":[0,5,10,15]}},"y":{"datum":7.9,"type":"quantitative","title":"log(rank)","scale":{"domain":[-0.343,8.927],"nice":false,"zero":false},"axis":{"title":"log(rank)","values":[0,2,4,6,8]}},"text":{"field":"label"}}}]},
{"width":314,"height":122,"layer":[
 {"data":{"name":"obs2014"},"mark":"point","encoding":{"x":{"field":"lsize","type":"quantitative","title":"log(size)","scale":{"domain":[-0.68,17.68],"nice":false,"zero":false},"axis":{"title":"log(size)","values":[0,5,10,15]}},"y":{"field":"lrank","type":"quantitative","title":"log(rank)","scale":{"domain":[-0.339,8.81],"nice":false,"zero":false},"axis":{"title":"log(rank)","values":[0,2,4,6,8]}}}},
 {"data":{"name":"fit2014"},"mark":"line","encoding":{"x":{"field":"lsize","type":"quantitative","title":"log(size)","scale":{"domain":[-0.68,17.68],"nice":false,"zero":false},"axis":{"title":"log(size)","values":[0,5,10,15]}},"y":{"field":"lrank","type":"quantitative","title":"log(rank)","scale":{"domain":[-0.339,8.81],"nice":false,"zero":false},"axis":{"title":"log(rank)","values":[0,2,4,6,8]}}}},
 {"data":{"values":[{"label":"Year: 2014"}]},"mark":"text","encoding":{"x":{"datum":16.22,"type":"quantitative","title":"log(size)","scale":{"domain":[-0.68,17.68],"nice":false,"zero":false},"axis":{"title":"log(size)","values":[0,5,10,15]}},"y":{"datum":7.8,"type":"quantitative","title":"log(rank)","scale":{"domain":[-0.339,8.81],"nice":false,"zero":false},"axis":{"title":"log(rank)","values":[0,2,4,6,8]}},"text":{"field":"label"}}}]}
],
"config": {
 "view": {"stroke": "black", "strokeWidth": 1},
 "font": "Liberation Sans",
 "axis": {"domainColor": "black", "domainWidth": 1, "tickColor": "black", "tickWidth": 1, "tickSize": 8, "labelColor": "black", "labelFontSize": 12, "labelFont": "Liberation Sans", "titleFont": "Liberation Sans", "titleFontSize": 12, "titleFontWeight": "normal", "titleColor": "black", "grid": false, "labelFlush": false, "labelOverlap": false},
 "axisX": {"labelPadding": 11.5, "titlePadding": 9.5},
 "axisY": {"labelAngle": -90, "labelAlign": "center", "labelBaseline": "alphabetic", "labelPadding": 13, "titlePadding": 7.5},
 "point": {"shape": "circle", "filled": false, "color": "blue", "size": 17, "strokeWidth": 1, "opacity": 1},
 "line": {"color": "red", "strokeWidth": 3, "interpolate": "monotone"},
 "text": {"font": "Liberation Sans", "fontSize": 12, "color": "black", "align": "right", "baseline": "middle"}
}
}
